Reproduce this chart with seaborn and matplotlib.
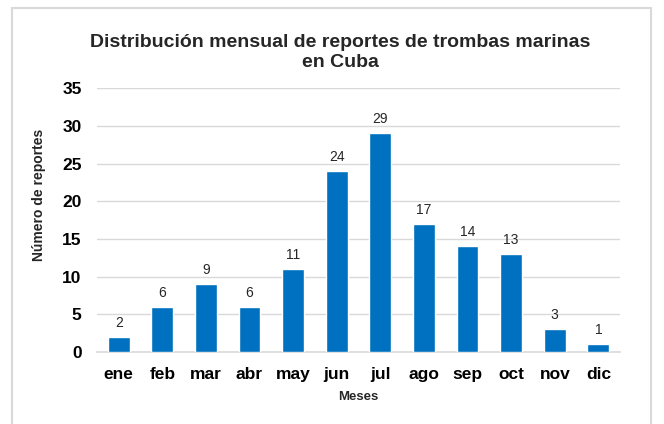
"""Monthly waterspout reports in Cuba - bar chart."""

import matplotlib

matplotlib.use("Agg")
import matplotlib.pyplot as plt
import pandas as pd
import seaborn as sns
from matplotlib.patches import Rectangle

meses = ["ene", "feb", "mar", "abr", "may", "jun", "jul", "ago", "sep", "oct", "nov", "dic"]
reportes = [2, 6, 9, 6, 11, 24, 29, 17, 14, 13, 3, 1]
y_ticks = [0, 5, 10, 15, 20, 25, 30, 35]

BAR_COLOR = "#0070C0"
GRID_COLOR = "#D9D9D9"


def main() -> None:
    sns.set_theme(style="white")
    plt.rcParams["font.family"] = ["Liberation Sans", "DejaVu Sans"]

    frame = pd.DataFrame({"mes": meses, "reportes": reportes})

    fig = plt.figure(figsize=(6.64, 4.24), dpi=100)
    ax = fig.add_axes([0.146, 0.170, 0.788, 0.622])

    sns.barplot(data=frame, x="mes", y="reportes", color=BAR_COLOR, width=0.5,
                saturation=1, ax=ax, zorder=3)

    for container in ax.containers:
        ax.bar_label(container, padding=5, fontsize=10, color="#262626")

    ax.set_ylim(0, 35)
    ax.set_yticks(y_ticks)
    ax.set_xlim(-0.5, len(meses) - 0.5)
    ax.yaxis.grid(True, color=GRID_COLOR, lw=1, zorder=0)
    for side in ["top", "right", "left"]:
        ax.spines[side].set_visible(False)
    ax.spines["bottom"].set_color(GRID_COLOR)
    ax.spines["bottom"].set_linewidth(1.2)
    ax.tick_params(axis="x", length=0, labelsize=12.5, colors="#000000", pad=11)
    ax.tick_params(axis="y", length=0, labelsize=12.5, colors="#000000", pad=11)
    for label in ax.get_xticklabels() + ax.get_yticklabels():
        label.set_fontweight("bold")

    ax.set_xlabel("Meses", fontsize=9.5, fontweight="bold")
    ax.xaxis.set_label_coords(0.5, -0.15)
    ax.set_ylabel("Número de reportes", fontsize=10, fontweight="bold")
    ax.yaxis.set_label_coords(-0.098, 0.597)

    fig.text(0.512, 0.877, "Distribución mensual de reportes de trombas marinas\nen Cuba",
             ha="center", va="center", fontsize=14, fontweight="bold",
             linespacing=1.25)

    fig.patches.append(Rectangle((12 / 664, -0.05), 639 / 664, 1.05 - 8 / 424,
                                 transform=fig.transFigure, fill=False,
                                 edgecolor="#D9D9D9", lw=1.5))

    fig.savefig("out.png", dpi=100)
    plt.close(fig)


if __name__ == "__main__":
    main()
